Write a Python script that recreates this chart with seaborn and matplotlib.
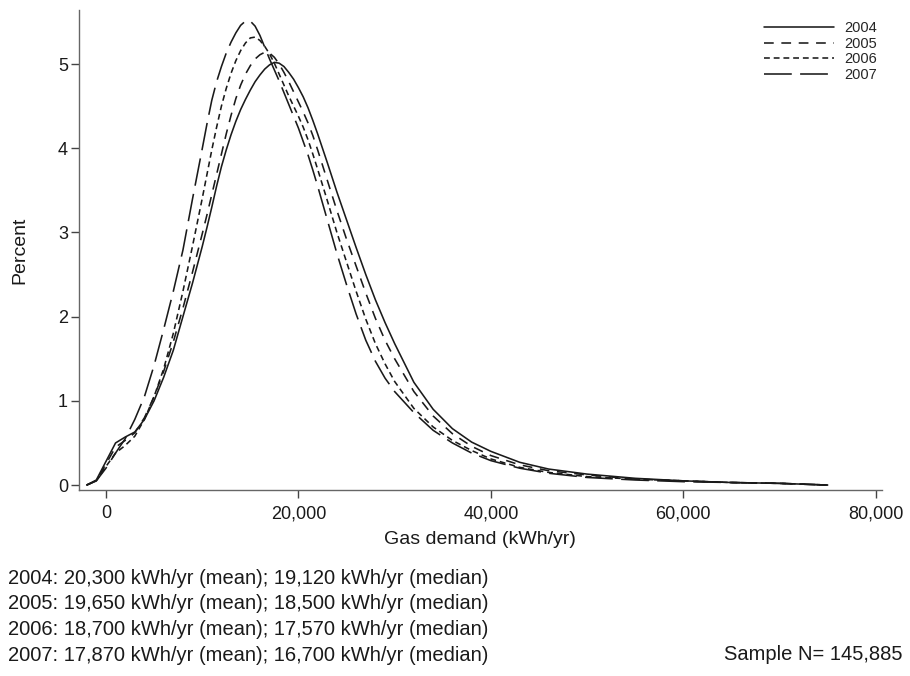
import pandas as pd
import numpy as np
import matplotlib
matplotlib.use('Agg')
import matplotlib.pyplot as plt
import seaborn as sns
from matplotlib.ticker import FuncFormatter

# gas demand grid, thousands of kWh/yr (finer around the peaks)
demand_k = [-2, -1, 0, 1, 2, 3, 4, 5, 6, 7, 8, 9,
            10, 10.5, 11, 11.5, 12, 12.5, 13, 13.5, 14, 14.5, 15, 15.5, 16, 16.5,
            17, 17.5, 18, 18.5, 19, 19.5, 20, 20.5, 21, 21.5, 22,
            23, 24, 25, 26, 27, 28, 29, 30, 32, 34, 36, 38, 40,
            43, 46, 50, 55, 60, 65, 70, 75]

# percent of households
pct_2004 = [0.0, 0.06, 0.28, 0.5, 0.57, 0.63, 0.78, 1.0, 1.28, 1.6, 2.0, 2.4,
            2.83, 3.06, 3.3, 3.55, 3.78, 3.98, 4.16, 4.32, 4.46, 4.58, 4.69, 4.79, 4.87, 4.94,
            4.99, 5.02, 5.01, 4.97, 4.9, 4.82, 4.72, 4.61, 4.48, 4.33, 4.17,
            3.83, 3.48, 3.15, 2.82, 2.5, 2.2, 1.93, 1.68, 1.22, 0.9, 0.67, 0.51, 0.4,
            0.27, 0.19, 0.13, 0.08, 0.05, 0.03, 0.02, 0.0]
pct_2005 = [0.0, 0.05, 0.25, 0.45, 0.53, 0.62, 0.8, 1.05, 1.35, 1.7, 2.1, 2.53,
            2.98, 3.21, 3.45, 3.69, 3.93, 4.17, 4.39, 4.59, 4.75, 4.88, 4.98, 5.06, 5.11, 5.14,
            5.13, 5.08, 5.0, 4.9, 4.79, 4.67, 4.55, 4.43, 4.3, 4.15, 3.98,
            3.62, 3.26, 2.92, 2.6, 2.28, 1.98, 1.72, 1.5, 1.11, 0.82, 0.61, 0.46, 0.35,
            0.24, 0.17, 0.12, 0.07, 0.05, 0.03, 0.02, 0.0]
pct_2006 = [0.0, 0.05, 0.22, 0.38, 0.47, 0.58, 0.78, 1.05, 1.38, 1.8, 2.3, 2.84,
            3.4, 3.69, 3.98, 4.25, 4.5, 4.71, 4.89, 5.04, 5.16, 5.25, 5.31, 5.32, 5.28, 5.21,
            5.12, 5.01, 4.88, 4.75, 4.62, 4.5, 4.38, 4.25, 4.1, 3.93, 3.75,
            3.38, 3.0, 2.65, 2.3, 1.97, 1.68, 1.44, 1.23, 0.91, 0.69, 0.53, 0.41, 0.31,
            0.21, 0.15, 0.1, 0.07, 0.05, 0.03, 0.02, 0.0]
pct_2007 = [0.0, 0.05, 0.2, 0.38, 0.55, 0.78, 1.05, 1.42, 1.85, 2.3, 2.79, 3.4,
            3.99, 4.29, 4.57, 4.79, 4.97, 5.13, 5.26, 5.37, 5.46, 5.51, 5.51, 5.45, 5.34, 5.2,
            5.06, 4.93, 4.8, 4.66, 4.52, 4.38, 4.24, 4.08, 3.92, 3.74, 3.55,
            3.15, 2.75, 2.38, 2.03, 1.72, 1.47, 1.27, 1.11, 0.86, 0.65, 0.5, 0.38, 0.29,
            0.2, 0.14, 0.09, 0.06, 0.04, 0.03, 0.02, 0.0]

years = ['2004', '2005', '2006', '2007']
notes = ['2004: 20,300 kWh/yr (mean); 19,120 kWh/yr (median)',
         '2005: 19,650 kWh/yr (mean); 18,500 kWh/yr (median)',
         '2006: 18,700 kWh/yr (mean); 17,570 kWh/yr (median)',
         '2007: 17,870 kWh/yr (mean); 16,700 kWh/yr (median)']
sample_note = 'Sample N= 145,885'

# long-form table for seaborn
frames = []
for yr, vals in zip(years, [pct_2004, pct_2005, pct_2006, pct_2007]):
    frames.append(pd.DataFrame({'demand': np.array(demand_k) * 1000,
                                'percent': vals, 'year': yr}))
df = pd.concat(frames, ignore_index=True)

sns.set_theme(style='white')
plt.rcParams['font.family'] = ['Liberation Sans', 'DejaVu Sans']
plt.rcParams['lines.scale_dashes'] = False

fig = plt.figure(figsize=(9.1, 6.76), dpi=100)
ax = fig.add_axes([0.0868, 0.275, 0.882, 0.71])

line_styles = {'2004': '', '2005': (7, 5.5), '2006': (4.2, 2.8), '2007': (20, 6)}
sns.lineplot(data=df, x='demand', y='percent', style='year', dashes=line_styles,
             color='#1a1a1a', linewidth=1.15, estimator=None, sort=False, ax=ax)

ax.set_xlim(-2800, 80600)
ax.set_ylim(-0.06, 5.64)
ax.set_xticks([0, 20000, 40000, 60000, 80000])
ax.set_yticks([0, 1, 2, 3, 4, 5])
ax.xaxis.set_major_formatter(FuncFormatter(lambda v, p: f'{v:,.0f}'))
ax.tick_params(axis='both', direction='out', length=6, width=1, color='#444444',
               labelsize=13, labelcolor='#1a1a1a', bottom=True, left=True)
ax.tick_params(axis='x', pad=5)
ax.tick_params(axis='y', pad=2)

for side in ['top', 'right']:
    ax.spines[side].set_visible(False)
for side in ['left', 'bottom']:
    ax.spines[side].set_color('#666666')
    ax.spines[side].set_linewidth(1)

ax.set_xlabel('Gas demand (kWh/yr)', fontsize=14, color='#1a1a1a', labelpad=6)
ax.set_ylabel('Percent', fontsize=14, color='#1a1a1a', labelpad=21)

leg = ax.legend(loc='upper left', bbox_to_anchor=(757 / 910, 1 - 14 / 676),
                bbox_transform=fig.transFigure, frameon=False, fontsize=10.5,
                handlelength=4.8, handletextpad=0.7, labelspacing=0.1, borderpad=0)
leg.set_title(None)

# footnotes under the chart
for i, txt in enumerate(notes):
    fig.text(8 / 910, 1 - (578 + 25.7 * i) / 676, txt, fontsize=14.5,
             color='#1a1a1a', va='center', ha='left')
fig.text(903 / 910, 1 - 655 / 676, sample_note, fontsize=14.5, color='#1a1a1a',
         va='center', ha='right')

plt.savefig('out.png', dpi=100)
